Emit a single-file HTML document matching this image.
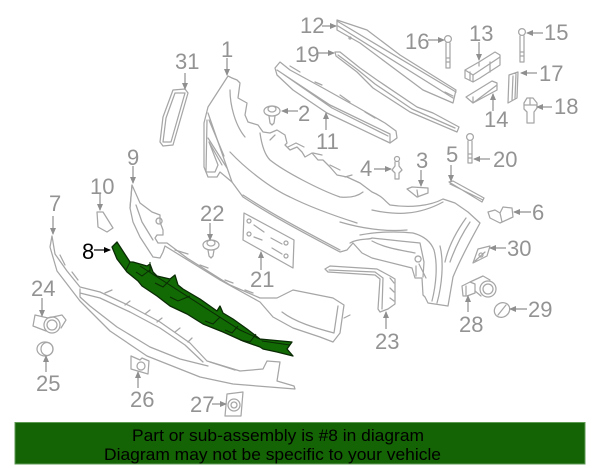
<!DOCTYPE html>
<html><head><meta charset="utf-8"><style>
html,body{margin:0;padding:0;background:#fff}
svg{display:block}
text{font-family:"Liberation Sans",sans-serif}
.l{font-size:22px;fill:#939393}
.p path,.p polygon,.p polyline,.p circle,.p ellipse,.p rect,.p line{fill:none;stroke:#a6a6a6;stroke-width:1.25;stroke-linejoin:round;stroke-linecap:round}
.a line{stroke:#8f8f8f;stroke-width:1.2}
.soft{filter:blur(.35px)}
</style></head><body>
<svg width="600" height="468" viewBox="0 0 600 468" xmlns="http://www.w3.org/2000/svg">
<defs>
<marker id="m" markerWidth="7" markerHeight="6" refX="6" refY="3" orient="auto" markerUnits="userSpaceOnUse"><path d="M0 0L7 3L0 6Z" fill="#8f8f8f"/></marker>
<marker id="k" markerWidth="7" markerHeight="6" refX="6" refY="3" orient="auto" markerUnits="userSpaceOnUse"><path d="M0 0L7 3L0 6Z" fill="#000"/></marker>
</defs>
<rect width="600" height="468" fill="#fff"/>
<g class="soft">
<g class="p">
<!-- main bumper -->
<path d="M228 76L208 107L204 123L204 167L208 177L217 177L220 172L232 182L243 197C275 218 310 236 340 252L347 250L353 243L362 253L372 258L412 268L415 278L422 278L423 295L425 297L428 303L448 306L453 277C462 255 472 238 480 223L468 212L455 203L443 199C430 206 410 208 390 205C384 200 382 196 372 192L360 183L347 177L337 175L330 167L323 160L318 160L312 153L305 157L302 152L297 147L290 150L285 145L287 143L285 135L277 130L270 133L263 132L258 125L248 122L245 115L247 103L238 98L240 83L237 80L232 78Z"/>
<path d="M228 76L232 78"/>
<path d="M243 195C275 216 310 234 340 250"/>
<path d="M260 133C262 147 266 156 270 160C285 172 320 190 340 197C350 198 358 196 363 192"/>
<path d="M230 152C245 168 270 188 290 197C310 207 335 216 357 223"/>
<path d="M230 90C230 105 235 125 245 137"/>
<path d="M372 210C385 213 400 214 407 213C420 212 432 208 443 202"/>
<path d="M340 222C360 228 385 232 407 230"/>
<path d="M470 222C462 234 455 248 450 262"/>
<path d="M466 218C456 232 448 248 445 262"/>
<path d="M360 235C375 232 395 231 413 233C424 236 431 242 434 250C438 265 436 285 432 301"/>
<path d="M440 246C444 262 442 285 437 303"/>
<path d="M350 243C358 238 370 240 372 238L400 241L420 243L424 262L423 277"/>
<path d="M372 241C385 248 400 250 415 253M418 256a3 3 0 1 0 .1 0M419 264L426 278M416 266L416 276"/>
<path d="M208 113L232 182"/>
<path d="M207 120L206 172L215 172L218 165L209 142L222 165"/>
<path d="M209 120L224 156M208 138L227 168"/>
<path d="M270 140L275 135M288 147L296 143L304 147M313 153L322 155M330 165L340 170M345 177L352 175"/>
<!-- bar 12 -->
<path d="M337 20L337 30L360 43L423 90L453 103L456 90L400 55L367 30Z"/>
<path d="M337 21L456 92M338 26L453 98M445 92L453 96"/>
<circle cx="350" cy="38" r="1"/>
<!-- bar 19 -->
<path d="M335 52L336 56L357 72L373 88L410 112L457 132L459 127L433 113L417 107L377 80L360 68L340 52Z"/>
<path d="M338 55L358 70L375 84L412 109L455 128"/>
<!-- bar 11 -->
<path d="M275 68L277 75L293 90L327 113L390 143L397 138L396 131L385 123L357 107L323 88L290 70L280 62Z"/>
<path d="M277 70L330 105L390 134L390 143M283 74L332 108L388 136"/>
<path d="M290 66L300 72M315 82L322 85M340 95L350 102M365 112L375 118"/>
<!-- 31 -->
<path d="M173 90L163 117L160 142L163 146L173 145L188 93L185 89Z"/>
<path d="M175 93L166 118L163 142L171 142L185 93Z"/>
<!-- part 9 lower bumper -->
<path d="M132 185L140 203L152 212L160 215L160 222L163 230L163 235L157 235L155 238L158 243L167 243L187 258L203 268L230 285L260 298L277 298L293 290L333 298L344 305L340 333L333 342L320 337L293 328L273 317L260 302L220 280L165 246L163 252L160 258L153 257L140 237L133 222L130 208Z"/>
<path d="M130 208L132 185M136 205L142 222L153 240M159 218a3 3 0 1 0 .1 0"/>
<path d="M282 312C295 322 315 328 334 333L338 306M344 318L350 315M175 250L188 254M200 265L208 268M225 280L233 283M245 290L253 293"/>
<!-- part 7 lower valance -->
<path d="M52 236L50 247L57 271L80 301L110 331L147 356L200 377L233 384L295 389L294 386L277 381L280 362L267 361L263 369L240 371L207 361L190 343L160 322L130 306L100 292L80 287L67 271L55 254Z"/>
<path d="M80 289L80 297L90 306L117 327L150 347L180 359L208 366M80 293L100 298L130 312L160 328L185 345L203 362"/>
<path d="M60 255L65 265M72 272L78 280M105 293L112 290M125 305L130 301M145 314L150 310M157 322L162 318M175 332L180 328M188 342L192 338M210 362L235 370"/>
<!-- plate 21 -->
<polygon points="244,213 243,240 293,268 294,240"/>
<circle cx="249" cy="221" r="2"/><circle cx="249" cy="234" r="2"/><circle cx="286" cy="243" r="2"/><circle cx="286" cy="256" r="2"/>
<path d="M254 225L264 232M271 238L282 244M254 237L262 240M272 248L282 254"/>
<!-- 23 -->
<path d="M325 269L330 266L377 269L390 276L395 279L395 304L388 309L380 312L378 309L380 279L375 275L328 272Z"/>
<path d="M329 270L375 272L383 278L382 309M390 278L394 283M390 288L394 292M390 298L394 301"/>
<!-- bolts -->
<circle cx="448" cy="39" r="3.4"/>
<path d="M446 43L446 68L450 68L450 43M446 58H450M446 62H450"/>
<circle cx="522" cy="32" r="3.4"/>
<path d="M520 36L520 62L524 62L524 36M520 52H524M520 56H524"/>
<circle cx="470" cy="137" r="3.4"/>
<path d="M468 141L468 163L472 163L472 141M468 154H472M468 158H472"/>
<!-- 13 -->
<path d="M465 70L465 78L473 82L480 78L500 65L500 55L495 52L479 62ZM465 70L473 75L500 57M473 75L473 82M470 72L470 80M490 62L490 72M479 62L479 66"/>
<!-- 14 -->
<path d="M466 97L473 103L497 90L497 83L492 81ZM473 97L473 103L497 85"/>
<!-- 17 -->
<path d="M509 75L508 103L517 98L518 72ZM513 76L512 100M516 74L515 98"/>
<!-- 18 -->
<path d="M524 103L524 109L527 112L527 123L534 123L534 112L537 108L537 103L533 98L527 98Z"/>
<path d="M524 105L537 105M530 98L530 105"/>
<!-- 5 -->
<path d="M449 182L482 202L484 198L453 181ZM450 184L483 200"/>
<!-- 6 -->
<path d="M488 212L490 218L500 223L513 217L512 208L503 207L500 213L495 210ZM500 213L502 222"/>
<!-- 3 -->
<path d="M407 189L417 197L428 193L428 188L412 187ZM417 190L418 197"/>
<!-- 4 -->
<circle cx="397" cy="159" r="2.5"/>
<path d="M395 162L395 166L392 170L395 173L395 179L399 179L399 173L402 170L399 166L399 162"/>
<!-- 2 -->
<ellipse cx="272" cy="111" rx="8" ry="5"/><ellipse cx="272" cy="109" rx="4" ry="3"/>
<path d="M269 116L270 123L272 125L274 123L275 116"/>
<!-- 22 -->
<ellipse cx="211" cy="245" rx="8" ry="5"/><ellipse cx="211" cy="243" rx="4" ry="3"/>
<path d="M208 250L209 256L211 258L213 256L214 250"/>
<!-- 10 -->
<path d="M97 212L98 227L107 232L113 228L103 212Z"/>
<!-- 24 -->
<path d="M35 315L33 326L46 331M35 315L48 318L62 315L66 320L61 328"/>
<circle cx="52" cy="325" r="8"/><circle cx="52" cy="325" r="5"/>
<!-- 25 -->
<ellipse cx="45" cy="349" rx="8" ry="7"/><ellipse cx="47" cy="349" rx="6" ry="6.5"/>
<!-- 26 -->
<path d="M131 356L131 369L148 374L149 361L142 358L140 360Z"/>
<circle cx="141" cy="366" r="4"/>
<!-- 27 -->
<path d="M227 394L225 416L241 416L243 392Z"/>
<circle cx="234" cy="405" r="6"/><circle cx="234" cy="405" r="3"/>
<!-- 28 -->
<path d="M462 286L463 296L467 296L475 293L475 284L470 282ZM466 286L466 295M470 282L483 276L490 280"/>
<circle cx="488" cy="289" r="8"/><circle cx="488" cy="289" r="5"/>
<path d="M475 291L481 296"/>
<!-- 29 -->
<ellipse cx="502" cy="310" rx="8" ry="7" transform="rotate(-35 502 310)"/>
<path d="M498 315L506 305"/>
<!-- 30 -->
<path d="M473 263L478 249L490 246L487 256ZM475 261L485 252"/>
<circle cx="481" cy="255" r="2"/>
</g>
<!-- part 8 -->
<polygon points="112,247 117,242 130,262 133,262 147,266 150,264 153,272 157,276 170,279 175,275 178,285 183,289 200,299 217,311 220,306 223,313 233,319 247,329 260,339 292,342 287,349 293,356 277,352 263,349 260,347 243,341 223,332 203,324 187,314 170,306 157,296 142,286 138,281 127,272 117,259" fill="#126a05" stroke="#0a2a05" stroke-width="1.3" stroke-linejoin="round"/>
<path d="M136 272L142 276L150 270M155 283L163 287L170 280M170 297L178 301L190 296M205 321L213 324L220 317M225 330L232 333L238 326M240 340L250 342L256 334M140 266L240 330L262 340M150 272L150 262M262 341L290 345M130 262L126 270" fill="none" stroke="#0a2a05" stroke-width="1"/>
<!-- arrows -->
<g class="a">
<line x1="227" y1="58" x2="227" y2="75" marker-end="url(#m)"/>
<line x1="185" y1="73" x2="185" y2="89" marker-end="url(#m)"/>
<line x1="133" y1="166" x2="133" y2="183" marker-end="url(#m)"/>
<line x1="100" y1="194" x2="100" y2="210" marker-end="url(#m)"/>
<line x1="53" y1="216" x2="53" y2="234" marker-end="url(#m)"/>
<line x1="210" y1="223" x2="210" y2="240" marker-end="url(#m)"/>
<line x1="322" y1="26" x2="336" y2="26" marker-end="url(#m)"/>
<line x1="318" y1="53" x2="334" y2="53" marker-end="url(#m)"/>
<line x1="428" y1="40" x2="444" y2="40" marker-end="url(#m)"/>
<line x1="479" y1="42" x2="479" y2="60" marker-end="url(#m)"/>
<line x1="543" y1="33" x2="527" y2="33" marker-end="url(#m)"/>
<line x1="537" y1="73" x2="521" y2="73" marker-end="url(#m)"/>
<line x1="552" y1="107" x2="537" y2="107" marker-end="url(#m)"/>
<line x1="493" y1="111" x2="493" y2="94" marker-end="url(#m)"/>
<line x1="326" y1="130" x2="326" y2="113" marker-end="url(#m)"/>
<line x1="298" y1="111" x2="282" y2="111" marker-end="url(#m)"/>
<line x1="374" y1="169" x2="391" y2="169" marker-end="url(#m)"/>
<line x1="421" y1="170" x2="421" y2="186" marker-end="url(#m)"/>
<line x1="451" y1="165" x2="451" y2="181" marker-end="url(#m)"/>
<line x1="490" y1="159" x2="474" y2="159" marker-end="url(#m)"/>
<line x1="531" y1="212" x2="514" y2="212" marker-end="url(#m)"/>
<line x1="506" y1="248" x2="490" y2="248" marker-end="url(#m)"/>
<line x1="527" y1="309" x2="510" y2="309" marker-end="url(#m)"/>
<line x1="468" y1="312" x2="468" y2="296" marker-end="url(#m)"/>
<line x1="386" y1="329" x2="386" y2="312" marker-end="url(#m)"/>
<line x1="261" y1="270" x2="261" y2="252" marker-end="url(#m)"/>
<line x1="42" y1="298" x2="42" y2="316" marker-end="url(#m)"/>
<line x1="46" y1="372" x2="46" y2="356" marker-end="url(#m)"/>
<line x1="138" y1="388" x2="138" y2="372" marker-end="url(#m)"/>
<line x1="212" y1="404" x2="226" y2="404" marker-end="url(#m)"/>
<line x1="94" y1="250" x2="110" y2="250" style="stroke:#000" marker-end="url(#k)"/>
</g>
<!-- labels -->
<g class="l">
<text x="221" y="57">1</text>
<text x="175" y="69">31</text>
<text x="127" y="165">9</text>
<text x="90" y="194">10</text>
<text x="49" y="211">7</text>
<text x="200" y="221">22</text>
<text x="300" y="33">12</text>
<text x="295" y="62">19</text>
<text x="405" y="49">16</text>
<text x="469" y="41">13</text>
<text x="544" y="40">15</text>
<text x="539" y="81">17</text>
<text x="554" y="114">18</text>
<text x="484" y="127">14</text>
<text x="316" y="149">11</text>
<text x="298" y="121">2</text>
<text x="360" y="176">4</text>
<text x="416" y="168">3</text>
<text x="446" y="162">5</text>
<text x="493" y="167">20</text>
<text x="532" y="220">6</text>
<text x="507" y="256">30</text>
<text x="528" y="317">29</text>
<text x="459" y="332">28</text>
<text x="375" y="349">23</text>
<text x="250" y="287">21</text>
<text x="31" y="296">24</text>
<text x="36" y="391">25</text>
<text x="130" y="407">26</text>
<text x="190" y="412">27</text>
<text x="82" y="259" style="fill:#000">8</text>
</g>
</g>
<!-- banner -->
<rect x="15" y="422.5" width="570" height="41.5" fill="#146405" stroke="#5f9a55" stroke-width="1"/>
<text x="132" y="441" font-size="16.5" fill="#000" textLength="292" lengthAdjust="spacingAndGlyphs">Part or sub-assembly is #8 in diagram</text>
<text x="104" y="460" font-size="16.5" fill="#000" textLength="337" lengthAdjust="spacingAndGlyphs">Diagram may not be specific to your vehicle</text>
</svg>
</body></html>
